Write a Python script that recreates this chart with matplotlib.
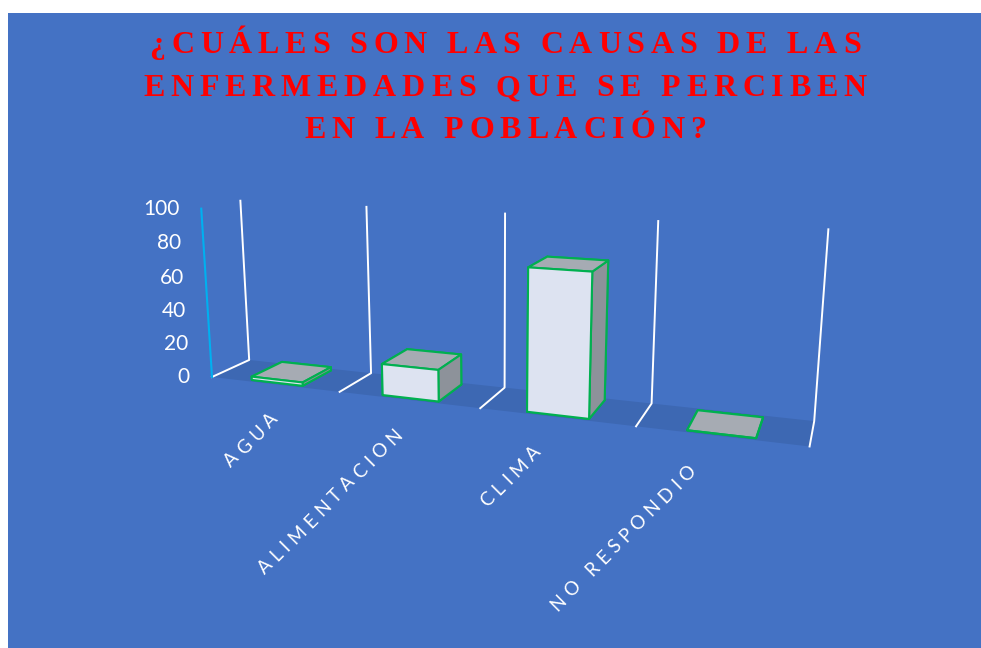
import matplotlib.pyplot as plt
import numpy as np
from matplotlib.patches import Rectangle
from matplotlib.font_manager import FontProperties
from mpl_toolkits.mplot3d import proj3d
from mpl_toolkits.mplot3d.art3d import Poly3DCollection

# data
categories = ['AGUA', 'ALIMENTACION', 'CLIMA', 'NO RESPONDIO']
values = [2, 18, 78, 0]
zticks = [0, 20, 40, 60, 80, 100]
title_lines = ['¿CUÁLES SON LAS CAUSAS DE LAS',
               'ENFERMEDADES QUE SE PERCIBEN',
               'EN LA POBLACIÓN?']

W, H = 981, 648
BG = '#4472c4'
fig = plt.figure(figsize=(W / 100, H / 100), dpi=100)
fig.patch.set_facecolor('white')
fig.patches.append(Rectangle((8 / W, 0), 1, (H - 13) / H, transform=fig.transFigure,
                             facecolor=BG, edgecolor='none', zorder=-5))

n = len(categories)
depth = 1.0
zmax = zticks[-1]

S0 = 600.0
ax = fig.add_axes([(505 - S0 / 2) / W, (320 - S0 / 2) / H, S0 / W, S0 / H], projection='3d')
ax.set_facecolor('none')
ax.patch.set_alpha(0)
ax.set_axis_off()
ax.computed_zorder = False
ax.set_proj_type('persp', focal_length=0.3)
ax.view_init(elev=13, azim=-70)
ax.set_xlim(0, n)
ax.set_ylim(0, depth)
ax.set_zlim(0, zmax)
ax.set_box_aspect((672, 78, 198))

# floor strip
floor = Poly3DCollection([[(0, 0, 0), (n, 0, 0), (n, depth, 0), (0, depth, 0)]],
                         facecolor='#3d68b3', edgecolor='none', zorder=1)
floor.set_clip_on(False)
ax.add_collection3d(floor)

# gridlines at category boundaries (back wall + floor)
for b in range(n + 1):
    ax.plot([b, b, b], [0, depth, depth], [0, 0, zmax], color='white', lw=1.4,
            zorder=2, clip_on=False)

# value axis
ax.plot([0, 0], [0, 0], [0, zmax], color='#00b0f0', lw=1.5, zorder=2, clip_on=False)

# bars
bw, bd = 0.4, 0.85
xs = np.arange(n) + 0.5 - bw / 2
ys = np.full(n, (depth - bd) / 2)
zs = np.zeros(n)
face_cols = []
for _ in range(n):
    # -z, +z, -y, +y, -x, +x
    face_cols += ['#a6abb3', '#a6abb3', '#dde3f1', '#dde3f1', '#dde3f1', '#8d929a']
bars = ax.bar3d(xs, ys, zs, bw, bd, values, color=face_cols, shade=False,
                edgecolor='#00b050', linewidth=1.5)
bars.set_zorder(3)
bars.set_clip_on(False)


def to_px(x, y, z):
    M = ax.get_proj()
    x2, y2, _ = proj3d.proj_transform(x, y, z, M)
    return np.array(ax.transData.transform((x2, y2)))


# fit the projected box onto the reference frame (front-left floor / back-right top)
fig.canvas.draw()
T1 = np.array([212.0, H - 377.0])
T2 = np.array([829.0, H - 232.0])
P1 = to_px(0, 0, 0)
P2 = to_px(n, depth, zmax)
k = np.linalg.norm(T2 - T1) / np.linalg.norm(P2 - P1)
c0 = np.array([505.0, 320.0])
c = T1 - k * (P1 - c0)
S = S0 * k
ax.set_position([(c[0] - S / 2) / W, (c[1] - S / 2) / H, S / W, S / H])
fig.canvas.draw()
renderer = fig.canvas.get_renderer()


def advance(ch, prop):
    w1 = renderer.get_text_width_height_descent('X' + ch + 'X', prop, ismath=False)[0]
    w0 = renderer.get_text_width_height_descent('XX', prop, ismath=False)[0]
    return w1 - w0


def spaced_text(px, py, s, prop, spacing, angle=0, ha='center', va='baseline', color='white'):
    advs = [advance(ch, prop) for ch in s]
    total = sum(advs) + spacing * (len(s) - 1)
    start = {'left': 0, 'center': -total / 2, 'right': -total}[ha]
    dx, dy = np.cos(np.radians(angle)), np.sin(np.radians(angle))
    pos = start
    for ch, a in zip(s, advs):
        fig.text((px + pos * dx) / W, (py + pos * dy) / H, ch, fontproperties=prop,
                 rotation=angle, rotation_mode='anchor', ha='left', va=va, color=color)
        pos += a + spacing


# value tick labels
tick_prop = FontProperties(family='Lato', size=15)
for v in zticks:
    px, py = to_px(0, 0, v)
    fig.text((px - 22) / W, py / H, str(v), fontproperties=tick_prop,
             ha='right', va='center', color='white')

# category labels
cat_prop = FontProperties(family='Lato', size=13.5)
for i, cat in enumerate(categories):
    px, py = to_px(i + 0.5, 0, 0)
    spaced_text(px + 5 - 9.5 * i, py - 36, cat, cat_prop, 5.0, angle=45, ha='right')

# title
title_prop = FontProperties(family='Liberation Serif', weight='bold', size=23)
base_y = [595, 552, 510]
for line, by in zip(title_lines, base_y):
    spaced_text(505, by, line, title_prop, 5.8, ha='center', color='#ff0000')

fig.savefig('out.png', dpi=100, facecolor=fig.get_facecolor())
